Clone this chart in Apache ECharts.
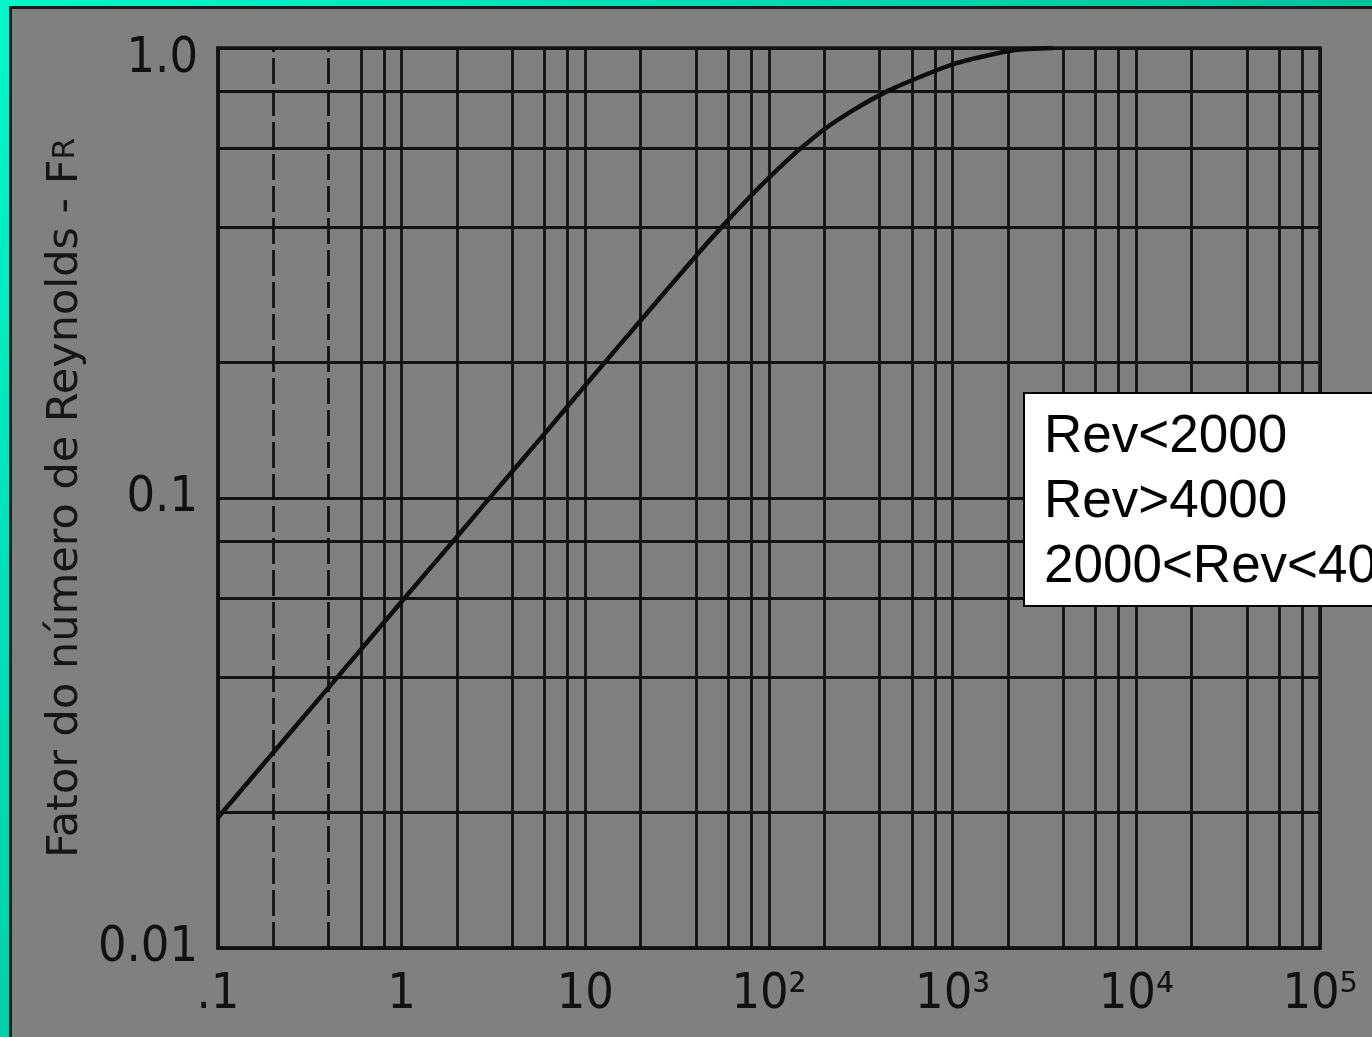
<!DOCTYPE html>
<html>
<head>
<meta charset="utf-8">
<script src="https://cdn.jsdelivr.net/npm/echarts@6/dist/echarts.min.js"></script>
<style>
  html, body { margin: 0; padding: 0; }
  body {
    width: 1372px;
    height: 1037px;
    overflow: hidden;
    background: linear-gradient(135deg, #00f7cc 0%, #00c9a2 50%, #009c78 100%);
  }
  #paper {
    position: absolute;
    left: 9px;
    top: 6px;
    right: 0;
    bottom: 0;
    background: #808080;
    border-left: 3px solid #1a1a1a;
    border-top: 3px solid #1a1a1a;
  }
  #chart {
    position: absolute;
    left: 0;
    top: 0;
    width: 1372px;
    height: 1037px;
  }
</style>
</head>
<body>
<div id="paper"></div>
<div id="chart"></div>
<script>
// Reynolds number (x) and the Reynolds factor F_R (y)
const reynolds = [0.1, 0.2, 0.4, 1, 2, 3, 6, 10, 20, 40, 60, 80, 100, 130, 150, 200, 300, 450, 700, 1000, 1500, 2200, 3500];
const fatorFR = [0.0195, 0.0272, 0.0379, 0.0589, 0.082, 0.0998, 0.139, 0.178, 0.248, 0.345, 0.415, 0.47, 0.515, 0.57, 0.6, 0.66, 0.735, 0.805, 0.87, 0.92, 0.96, 0.99, 1.0];

const xTickLabels = [".1", "1", "10", "10²", "10³", "10⁴", "10⁵"];
const yTickLabels = ["0.01", "0.1", "1.0"];

// minor grid lines of the log paper: 2, 4, 6, 8 in each decade
const gridMultipliers = [2, 4, 6, 8];
const xDecadeStarts = [0.1, 1, 10, 100, 1000, 10000];
const yDecadeStarts = [0.01, 0.1];
const dashedX = [0.2, 0.4];

const legendLines = ["Rev<2000", "Rev>4000", "2000<Rev<4000"];

const INK = "#121212";
const numFont = "'DejaVu Sans Condensed', 'DejaVu Sans', sans-serif";

function minorValues(starts) {
  const out = [];
  starts.forEach((d) => {
    gridMultipliers.forEach((m) => out.push(Number((d * m).toPrecision(6))));
  });
  return out;
}

function buildGridLines() {
  const xs = minorValues(xDecadeStarts).map((v) => ({
    xAxis: v,
    lineStyle: dashedX.includes(v) ? { type: [26, 6] } : {},
  }));
  const ys = minorValues(yDecadeStarts).map((v) => ({ yAxis: v }));
  return xs.concat(ys);
}

function exponent(v) {
  return Math.round(Math.log10(v));
}

const chart = echarts.init(document.getElementById("chart"), null, { renderer: "canvas" });

chart.setOption({
  animation: false,
  backgroundColor: "transparent",
  grid: {
    left: 218,
    right: 52,
    top: 48,
    bottom: 89,
    show: true,
    borderColor: INK,
    borderWidth: 3.5,
    backgroundColor: "transparent",
  },
  xAxis: {
    type: "log",
    logBase: 10,
    min: 0.1,
    max: 100000,
    splitNumber: 6,
    axisLine: { show: true, lineStyle: { color: INK, width: 3.5 } },
    axisTick: { show: false },
    splitLine: { show: true, lineStyle: { color: INK, width: 2.8 } },
    axisLabel: {
      margin: 22,
      fontSize: 50,
      fontFamily: numFont,
      color: "#111",
      formatter: (v) => xTickLabels[exponent(v) + 1],
    },
  },
  yAxis: {
    type: "log",
    logBase: 10,
    min: 0.01,
    max: 1,
    axisLine: { show: true, lineStyle: { color: INK, width: 3.5 } },
    axisTick: { show: false },
    splitLine: { show: true, lineStyle: { color: INK, width: 2.8 } },
    axisLabel: {
      margin: 20,
      fontSize: 50,
      fontFamily: numFont,
      color: "#111",
      formatter: (v) => {
        const e = exponent(v);
        return e === 0 ? `{low|${yTickLabels[e + 2]}}` : yTickLabels[e + 2];
      },
      rich: {
        low: { fontSize: 50, fontFamily: numFont, color: "#111", padding: [22, 0, 0, 0] },
      },
    },
    name: "Fator do número de Reynolds - F{sub|R}",
    nameLocation: "middle",
    nameRotate: 90,
    nameGap: 130,
    nameTextStyle: {
      fontSize: 43,
      fontFamily: "'DejaVu Sans', sans-serif",
      color: "#161616",
      rich: {
        sub: { fontSize: 31, fontFamily: "'DejaVu Sans', sans-serif", color: "#161616" },
      },
    },
  },
  series: [
    {
      type: "line",
      data: [],
      silent: true,
      z: 1,
      markLine: {
        silent: true,
        symbol: "none",
        label: { show: false },
        lineStyle: { color: INK, width: 2.8, type: "solid" },
        data: buildGridLines(),
      },
    },
    {
      type: "line",
      name: "FR",
      data: reynolds.map((x, i) => [x, fatorFR[i]]),
      showSymbol: false,
      smooth: 0.2,
      z: 5,
      lineStyle: { color: "#0d0d0d", width: 4.5, join: "round" },
    },
  ],
  graphic: [
    {
      type: "rect",
      left: 1023,
      top: 392,
      z: 100,
      shape: { width: 420, height: 213 },
      style: { fill: "#ffffff", stroke: "#000000", lineWidth: 2 },
    },
  ].concat(
    legendLines.map((t, i) => ({
      type: "text",
      left: 1044,
      top: 411 + i * 65,
      z: 101,
      style: {
        text: t,
        fill: "#000",
        font: "53px 'Liberation Sans', Arial, sans-serif",
      },
    })),
  ),
});

window.addEventListener("resize", () => chart.resize());
</script>
</body>
</html>
